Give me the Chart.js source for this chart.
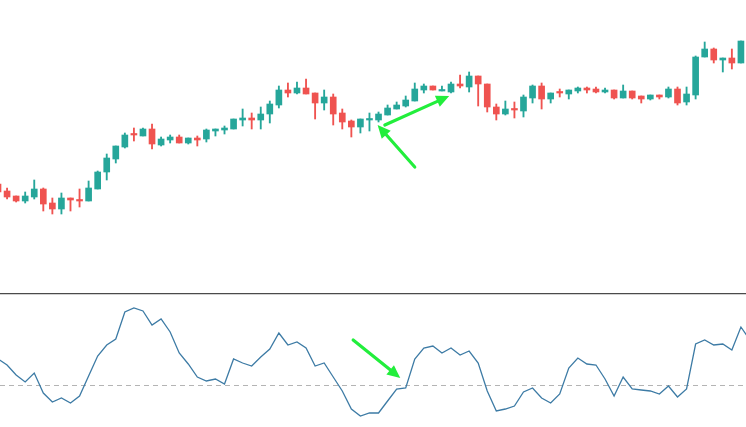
<!DOCTYPE html>
<html>
<head>
<meta charset="utf-8">
<script src="https://cdn.jsdelivr.net/npm/chart.js@4.4.1/dist/chart.umd.min.js"></script>
<style>
    html, body { margin: 0; padding: 0; background: #fff; overflow: hidden; }
    #top { position: absolute; left: 0; top: 0; width: 746px; height: 293px; }
    #bottom { position: absolute; left: 0; top: 293px; width: 746px; height: 134px; }
</style>
</head>
<body>
<div id="top"><canvas id="priceChart"></canvas></div>
<div id="bottom"><canvas id="oscChart"></canvas></div>
<script>
// Données des bougies
const candleOpen = [116, 109, 104, 99, 103, 111, 97, 91, 102, 100, 99, 111, 128, 141, 153, 166, 164, 171, 155, 160,
    163, 157, 162, 161, 169, 170, 171, 180, 182, 180, 186, 195, 210, 207, 212, 207, 197, 203, 187, 179,
    173, 180, 180, 185, 191, 194, 199, 210, 214, 209, 208, 216, 213, 224, 216, 193, 186, 191, 189, 202,
    214, 201, 208, 206, 209, 212, 211, 208, 210, 202, 209, 204, 201, 205, 203, 211, 198, 205, 243, 251,
    240, 242, 237];
const candleHigh = [118, 112, 104, 108, 120, 112, 102, 107, 102, 111, 119, 129, 146, 154, 167, 172, 172, 176, 163, 165,
    165, 162, 164, 171, 171, 174, 181, 191, 187, 193, 199, 214, 217, 218, 221, 207, 210, 206, 191, 180,
    181, 187, 188, 195, 198, 204, 217, 216, 214, 214, 218, 225, 228, 224, 216, 196, 199, 198, 205, 215,
    217, 207, 211, 210, 213, 213, 213, 212, 210, 215, 209, 204, 205, 205, 213, 213, 213, 244, 258, 252,
    242, 251, 259];
const candleLow = [106, 101, 98, 97, 101, 89, 86, 86, 89, 93, 99, 111, 120, 137, 152, 159, 164, 151, 154, 157,
    157, 156, 154, 158, 164, 166, 171, 174, 171, 171, 177, 192, 203, 206, 206, 181, 190, 175, 171, 163,
    167, 169, 178, 185, 191, 193, 199, 207, 210, 209, 207, 212, 208, 194, 188, 180, 185, 182, 183, 197,
    191, 197, 203, 201, 207, 207, 207, 207, 201, 202, 201, 197, 200, 201, 202, 195, 195, 201, 243, 237,
    228, 231, 237];
const candleClose = [108, 103, 99, 104, 111, 96, 91, 102, 100, 99, 112, 128, 142, 154, 165, 165, 171, 156, 161, 163,
    157, 162, 160, 170, 171, 172, 181, 182, 180, 186, 196, 210, 207, 212, 206, 197, 203, 186, 178, 173,
    181, 181, 186, 192, 195, 200, 211, 214, 210, 210, 216, 214, 224, 216, 193, 186, 191, 190, 203, 214,
    201, 207, 207, 210, 212, 210, 208, 210, 202, 209, 202, 201, 205, 203, 211, 197, 206, 243, 251, 240,
    242, 237, 259];

// Oscillateur du panneau inférieur (0 = ligne pointillée)
const oscValues = [26, 20, 10, 3, 12, -8, -17, -13, -18, -11, 9, 29, 40, 46, 73, 77, 74, 60, 66, 53,
    32, 21, 8, 4, 6, 1, 26, 22, 19, 28, 36, 52, 40, 43, 37, 19, 22, 8, -6, -24,
    -31, -28, -28, -16, -4, -3, 26, 37, 39, 32, 37, 30, 34, 22, -6, -26, -24, -21, -7, -3,
    -13, -18, -9, 17, 27, 21, 20, 6, -11, 8, -4, -5, -6, -9, -1, -12, -4, 41, 45, 40,
    41, 35, 58, 45];

// Flèches d'annotation, en coordonnées [index, valeur]
const arrowsTop = [
    [[42.7, 175], [49.8, 204]],
    [[46.0, 133], [41.9, 175]]
];
const arrowsBottom = [
    [[39.2, 45], [44.4, 7]]
];

const UP_COLOR = '#26a69a';
const DOWN_COLOR = '#ef5350';
const ARROW_COLOR = '#22ee3c';
const X_MIN = 0.22;
const X_MAX = 82.56;

const candleColors = candleOpen.map((o, i) => (candleClose[i] >= o ? UP_COLOR : DOWN_COLOR));

/**
 * Dessine une flèche pleine entre deux points (pixels)
 */
function drawArrow(ctx, x1, y1, x2, y2) {
    const angle = Math.atan2(y2 - y1, x2 - x1);
    const headLen = 13;
    const headHalf = 6;
    const bx = x2 - headLen * Math.cos(angle);
    const by = y2 - headLen * Math.sin(angle);
    ctx.save();
    ctx.strokeStyle = ARROW_COLOR;
    ctx.fillStyle = ARROW_COLOR;
    ctx.lineWidth = 3.2;
    ctx.lineCap = 'round';
    ctx.beginPath();
    ctx.moveTo(x1, y1);
    ctx.lineTo(bx, by);
    ctx.stroke();
    ctx.beginPath();
    ctx.moveTo(x2, y2);
    ctx.lineTo(bx + headHalf * Math.sin(angle), by - headHalf * Math.cos(angle));
    ctx.lineTo(bx - headHalf * Math.sin(angle), by + headHalf * Math.cos(angle));
    ctx.closePath();
    ctx.fill();
    ctx.restore();
}

/**
 * Plugin qui trace les flèches à partir des échelles du graphique
 */
function arrowPlugin(arrows) {
    return {
        id: 'arrows',
        afterDatasetsDraw(chart) {
            const { ctx, scales } = chart;
            arrows.forEach(([from, to]) => {
                drawArrow(ctx,
                    scales.x.getPixelForValue(from[0]), scales.y.getPixelForValue(from[1]),
                    scales.x.getPixelForValue(to[0]), scales.y.getPixelForValue(to[1]));
            });
        }
    };
}

// Séparateur et ligne zéro du panneau inférieur
const panelPlugin = {
    id: 'panel',
    beforeDatasetsDraw(chart) {
        const { ctx, scales, width } = chart;
        const y0 = Math.round(scales.y.getPixelForValue(0)) + 0.5;
        ctx.save();
        ctx.strokeStyle = '#b4b4b4';
        ctx.lineWidth = 1;
        ctx.setLineDash([5, 4]);
        ctx.beginPath();
        ctx.moveTo(0, y0);
        ctx.lineTo(width, y0);
        ctx.stroke();
        ctx.setLineDash([]);
        ctx.strokeStyle = '#4a4a4a';
        ctx.lineWidth = 1.3;
        ctx.beginPath();
        ctx.moveTo(0, 0.6);
        ctx.lineTo(width, 0.6);
        ctx.stroke();
        ctx.restore();
    }
};

const hiddenLinear = (min, max) => ({ type: 'linear', display: false, min: min, max: max, offset: false });

// Graphique des prix (bougies = barres flottantes)
new Chart(document.getElementById('priceChart'), {
    type: 'bar',
    data: {
        datasets: [
            {
                label: 'corps',
                data: candleOpen.map((o, i) => ({ x: i, y: [o, candleClose[i]] })),
                backgroundColor: candleColors,
                barThickness: 6,
                minBarLength: 1.5,
                grouped: false,
                order: 0
            },
            {
                label: 'mèches',
                data: candleHigh.map((h, i) => ({ x: i, y: [candleLow[i], h] })),
                backgroundColor: candleColors,
                barThickness: 1.2,
                grouped: false,
                order: 1
            }
        ]
    },
    options: {
        responsive: true,
        maintainAspectRatio: false,
        animation: false,
        layout: { padding: 0 },
        plugins: { legend: { display: false }, tooltip: { enabled: false } },
        scales: {
            x: hiddenLinear(X_MIN, X_MAX),
            y: hiddenLinear(7, 300)
        }
    },
    plugins: [arrowPlugin(arrowsTop)]
});

// Panneau de l'oscillateur
new Chart(document.getElementById('oscChart'), {
    type: 'line',
    data: {
        datasets: [{
            label: 'oscillateur',
            data: oscValues.map((v, i) => ({ x: i, y: v })),
            borderColor: '#3d7ba5',
            borderWidth: 1.3,
            pointRadius: 0,
            tension: 0,
            fill: false
        }]
    },
    options: {
        responsive: true,
        maintainAspectRatio: false,
        animation: false,
        layout: { padding: 0 },
        plugins: { legend: { display: false }, tooltip: { enabled: false } },
        scales: {
            x: hiddenLinear(X_MIN, X_MAX),
            y: hiddenLinear(-42, 92)
        }
    },
    plugins: [panelPlugin, arrowPlugin(arrowsBottom)]
});
</script>
</body>
</html>
